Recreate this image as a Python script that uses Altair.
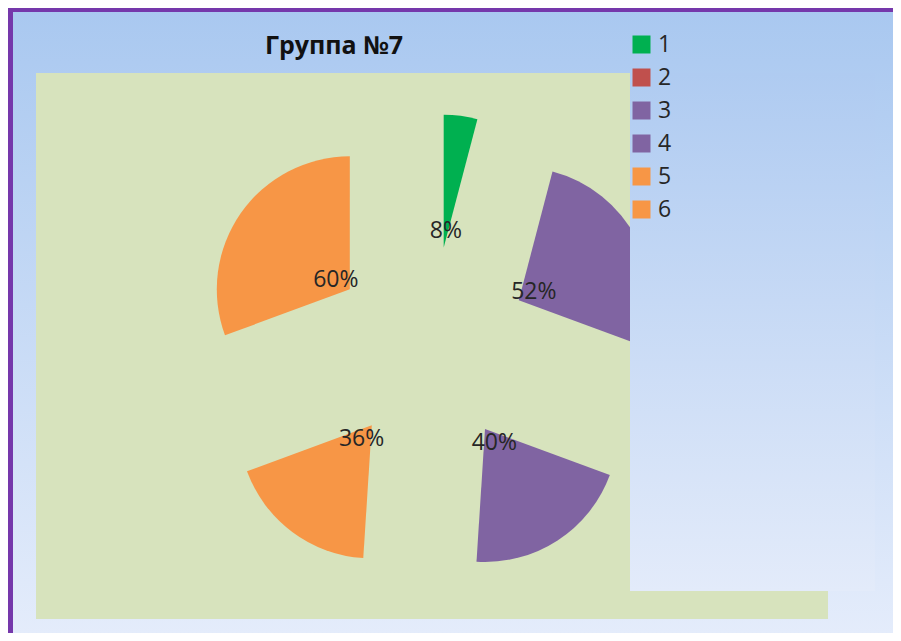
import altair as alt
import pandas as pd

# ---- data ----
categories = ["1", "2", "3", "4", "5", "6"]
values = [8, 0, 52, 40, 36, 60]
colors = ["#00b050", "#c0504d", "#8064a2", "#8064a2", "#f79646", "#f79646"]
title_text = "Группа №7"

# ---- layout (chart pixels) ----
W, H = 885, 625
CX, CY = 423, 337      # pie centre
EXPLODE = 99           # explode distance of each slice
R = 133                # slice radius
LABEL_R = 116          # label distance from centre
FONT = "Open Sans"

df = pd.DataFrame({"cat": categories, "value": values, "order": list(range(len(values)))})
one = pd.DataFrame({"t": [title_text]})

bg_grad = alt.Gradient(
    gradient="linear",
    stops=[alt.GradientStop(color="#a9c8f0", offset=0),
           alt.GradientStop(color="#e4ecfb", offset=1)],
    x1=0, x2=0, y1=0, y2=1,
)
legend_grad = alt.Gradient(
    gradient="linear",
    stops=[alt.GradientStop(color="#afcbf1", offset=0),
           alt.GradientStop(color="#e3ebfa", offset=1)],
    x1=0, x2=0, y1=0, y2=1,
)

background = alt.Chart(one).mark_rect(color=bg_grad).encode(
    x=alt.value(0), x2=alt.value(W), y=alt.value(0), y2=alt.value(H)
)
border_left = alt.Chart(one).mark_rect(color="#7538ab").encode(
    x=alt.value(0), x2=alt.value(5), y=alt.value(0), y2=alt.value(H)
)
border_top = alt.Chart(one).mark_rect(color="#7538ab").encode(
    x=alt.value(0), x2=alt.value(W), y=alt.value(-1), y2=alt.value(3)
)
plot_area = alt.Chart(one).mark_rect(color="#d7e3bd").encode(
    x=alt.value(28), x2=alt.value(820), y=alt.value(64), y2=alt.value(610)
)
legend_box = alt.Chart(one).mark_rect(color=legend_grad).encode(
    x=alt.value(622), x2=alt.value(867), y=alt.value(64), y2=alt.value(582)
)

base = (
    alt.Chart(df)
    .transform_window(cum="sum(value)", sort=[alt.SortField("order")], frame=[None, 0])
    .transform_joinaggregate(total="sum(value)")
    .transform_calculate(
        start="2*PI*(datum.cum - datum.value)/datum.total",
        end="2*PI*datum.cum/datum.total",
    )
    .transform_calculate(mid="(datum.start + datum.end)/2")
    .transform_calculate(
        cx=f"{CX} + {EXPLODE}*sin(datum.mid)",
        cy=f"{CY} - {EXPLODE}*cos(datum.mid)",
        lx=f"{CX} + {LABEL_R}*sin(datum.mid)",
        ly=f"{CY} - {LABEL_R}*cos(datum.mid)",
        label="datum.value + '%'",
    )
)

arcs = base.mark_arc(radius=R).encode(
    x=alt.X("cx:Q", scale=None, axis=None),
    y=alt.Y("cy:Q", scale=None, axis=None),
    theta=alt.Theta("start:Q", scale=None),
    theta2=alt.Theta2("end:Q"),
    color=alt.Color(
        "cat:N",
        scale=alt.Scale(domain=categories, range=colors),
        legend=alt.Legend(
            title=None,
            orient="none",
            legendX=622,
            legendY=24,
            padding=0,
            symbolType="square",
            symbolSize=324,
            symbolStrokeWidth=0,
            symbolOpacity=1,
            labelFont=FONT,
            labelFontSize=23,
            labelColor="#262626",
            labelOffset=5,
            rowPadding=9,
        ),
    ),
)

labels = base.transform_filter("datum.value > 0").mark_text(
    font=FONT, fontSize=23, color="#262626", align="center", baseline="middle"
).encode(
    x=alt.X("lx:Q", scale=None, axis=None),
    y=alt.Y("ly:Q", scale=None, axis=None),
    text="label:N",
)

title = alt.Chart(one).mark_text(
    font=FONT, fontSize=25, fontWeight="bold", color="#111111", align="center", baseline="alphabetic"
).encode(text="t:N", x=alt.value(326), y=alt.value(45))

chart = alt.layer(
    background, border_left, border_top, plot_area, arcs, legend_box, labels, title
).properties(
    width=W, height=H, padding=0,
    autosize=alt.AutoSizeParams(type="fit", contains="padding"),
    background="#e4ecfb",
).configure_view(strokeWidth=0)

chart.save("out.html", embed_options={"renderer": "svg", "actions": False})
